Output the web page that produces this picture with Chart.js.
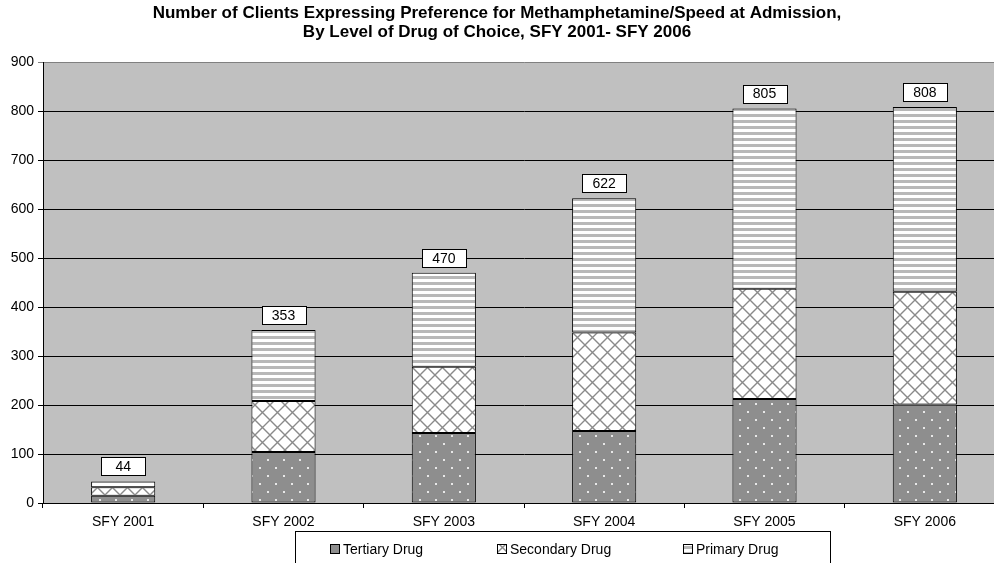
<!DOCTYPE html>
<html>
<head>
<meta charset="utf-8">
<script src="https://cdn.jsdelivr.net/npm/chart.js@4/dist/chart.umd.min.js"></script>
<style>
html,body{margin:0;padding:0;background:#fff;overflow:hidden;width:994px;height:563px;}
#wrap{width:1010px;height:563px;}
</style>
</head>
<body>
<div id="wrap"><canvas id="c" width="1010" height="563"></canvas></div>
<script>
const titleLines = ["Number of Clients Expressing Preference for Methamphetamine/Speed at Admission,", "By Level of Drug of Choice, SFY 2001- SFY 2006"];
const categories = ["SFY 2001", "SFY 2002", "SFY 2003", "SFY 2004", "SFY 2005", "SFY 2006"];
const tertiary = [15, 104, 143, 147, 212, 201];
const secondary = [17, 104, 135, 201, 225, 230];
const primary = [12, 145, 192, 274, 368, 377];
const seriesNames = ["Tertiary Drug", "Secondary Drug", "Primary Drug"];
const yTicks = [0, 100, 200, 300, 400, 500, 600, 700, 800, 900];

const FONT = "'Liberation Sans', Arial, sans-serif";

function makeTile(w, h, draw) {
  const c = document.createElement('canvas');
  c.width = w; c.height = h;
  const g = c.getContext('2d');
  draw(g, w, h);
  return c;
}
const ctx = document.getElementById('c').getContext('2d');
const dotTile = makeTile(16, 16, (g) => {
  g.fillStyle = '#8e8e8e'; g.fillRect(0, 0, 16, 16);
  g.fillStyle = '#e8e8e8';
  g.fillRect(3, 3, 2, 2); g.fillRect(11, 11, 2, 2);
});
const crossTile = makeTile(15, 15, (g) => {
  g.fillStyle = '#ffffff'; g.fillRect(0, 0, 15, 15);
  g.strokeStyle = '#8a8a8a'; g.lineWidth = 1.4;
  g.beginPath();
  g.moveTo(-1, -1); g.lineTo(16, 16);
  g.moveTo(16, -1); g.lineTo(-1, 16);
  g.stroke();
});
const stripeTile = makeTile(8, 6, (g) => {
  g.fillStyle = '#ffffff'; g.fillRect(0, 0, 8, 6);
  g.fillStyle = '#b8b8b8'; g.fillRect(0, 0, 8, 3);
});
const patterns = [
  ctx.createPattern(dotTile, 'repeat'),
  ctx.createPattern(crossTile, 'repeat'),
  ctx.createPattern(stripeTile, 'repeat')
];

const bgPlugin = {
  id: 'bg',
  beforeDraw(chart) {
    const a = chart.chartArea, c = chart.ctx;
    c.save();
    c.fillStyle = '#c0c0c0';
    c.fillRect(a.left, a.top, a.right - a.left, a.bottom - a.top);
    c.restore();
  }
};

const titlePlugin = {
  id: 'ttl',
  afterDraw(chart) {
    const c = chart.ctx;
    c.save();
    c.fillStyle = '#000';
    c.font = 'bold 17px ' + FONT;
    c.textAlign = 'center';
    c.textBaseline = 'middle';
    c.fillText(titleLines[0], 497, 13);
    c.fillText(titleLines[1], 497, 32);
    c.restore();
  }
};

const labelPlugin = {
  id: 'totals',
  afterDatasetsDraw(chart) {
    const c = chart.ctx;
    const n = chart.data.datasets.length;
    const topMeta = chart.getDatasetMeta(n - 1);
    c.save();
    c.font = '14px ' + FONT;
    c.textAlign = 'center';
    c.textBaseline = 'middle';
    categories.forEach((cat, i) => {
      let total = 0;
      chart.data.datasets.forEach(ds => total += ds.data[i]);
      const el = topMeta.data[i];
      const x = el.x, y = el.y - 15;
      const w = 44, h = 18;
      c.fillStyle = '#fff';
      c.fillRect(Math.round(x - w / 2) + 0.5, Math.round(y - h / 2) + 0.5, w, h);
      c.strokeStyle = '#000'; c.lineWidth = 1;
      c.strokeRect(Math.round(x - w / 2) + 0.5, Math.round(y - h / 2) + 0.5, w, h);
      c.fillStyle = '#000';
      c.fillText(String(total), x, y + 1);
    });
    c.restore();
  }
};

const legendPlugin = {
  id: 'lg',
  afterDraw(chart) {
    const c = chart.ctx;
    c.save();
    c.strokeStyle = '#000'; c.lineWidth = 1;
    c.fillStyle = '#fff';
    c.fillRect(295.5, 531.5, 535, 40);
    c.strokeRect(295.5, 531.5, 535, 40);
    const xs = [330, 497, 683];
    c.font = '14px ' + FONT;
    c.textBaseline = 'middle';
    c.textAlign = 'left';
    chart.data.datasets.forEach((ds, i) => {
      c.fillStyle = ds.backgroundColor;
      c.fillRect(xs[i] + 0.5, 544.5, 9, 9);
      c.strokeStyle = '#000';
      c.strokeRect(xs[i] + 0.5, 544.5, 9, 9);
      c.fillStyle = '#000';
      c.fillText(ds.label, xs[i] + 13, 550);
    });
    c.restore();
  }
};

new Chart(ctx, {
  type: 'bar',
  data: {
    labels: categories,
    datasets: [
      { label: seriesNames[0], data: tertiary, backgroundColor: patterns[0] },
      { label: seriesNames[1], data: secondary, backgroundColor: patterns[1] },
      { label: seriesNames[2], data: primary, backgroundColor: patterns[2] }
    ].map(d => Object.assign(d, { borderColor: '#000', borderWidth: 1, borderSkipped: false, barPercentage: 0.4, categoryPercentage: 1.0 }))
  },
  options: {
    responsive: false,
    animation: false,
    devicePixelRatio: 1,
    layout: { padding: { top: 62, left: 0, right: 5, bottom: 0 } },
    plugins: { legend: { display: false }, title: { display: false }, tooltip: { enabled: false } },
    scales: {
      x: {
        stacked: true,
        afterFit(s) { s.height = 60; },
        grid: { drawOnChartArea: false, drawTicks: true, tickLength: 5, color: '#000', offset: true },
        border: { color: '#000', width: 1 },
        ticks: { color: '#000', font: { family: FONT, size: 14 }, padding: 6, maxRotation: 0 }
      },
      y: {
        stacked: true,
        min: yTicks[0],
        max: yTicks[yTicks.length - 1],
        afterFit(s) { s.width = 43; },
        afterBuildTicks(s) { s.ticks = yTicks.map(v => ({ value: v })); },
        grid: {
          color: (c) => (c.tick && c.tick.value === 900) ? '#808080' : '#000',
          lineWidth: 1, tickLength: 5, drawTicks: true
        },
        border: { color: '#000', width: 1 },
        ticks: { color: '#000', font: { family: FONT, size: 14 }, padding: 4 }
      }
    }
  },
  plugins: [bgPlugin, labelPlugin, titlePlugin, legendPlugin]
});
</script>
</body>
</html>
